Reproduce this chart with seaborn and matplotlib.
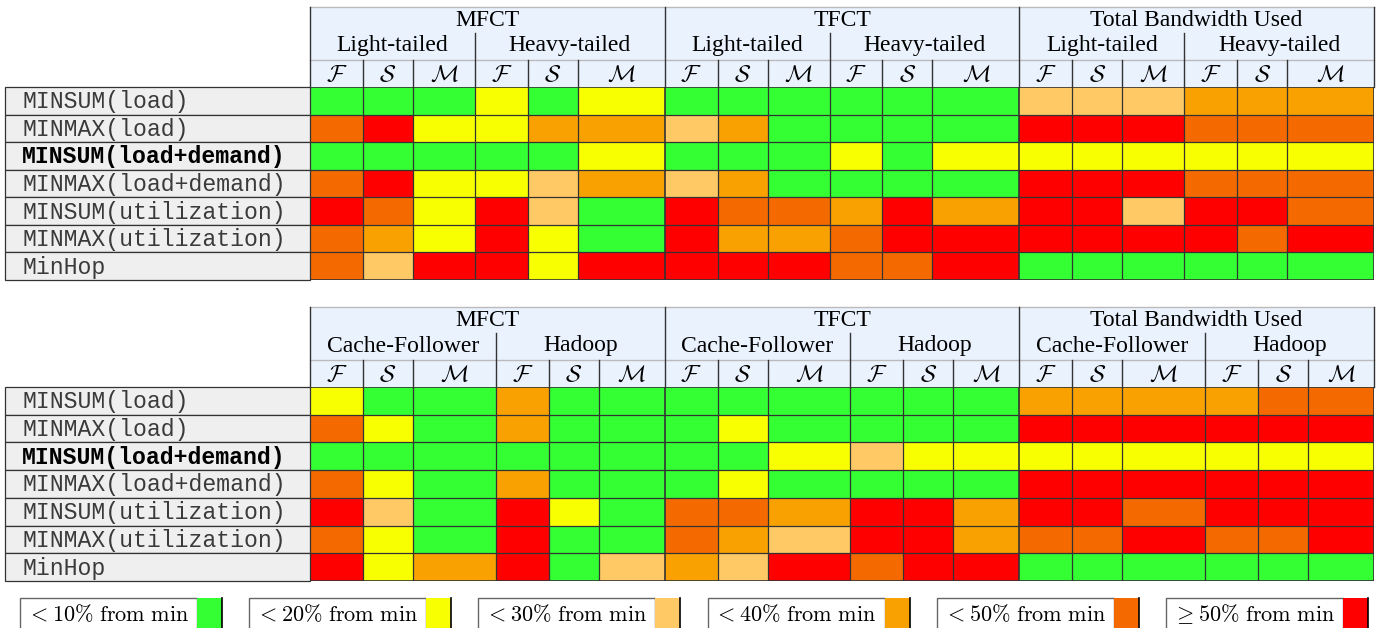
import numpy as np
import matplotlib
matplotlib.use("Agg")
import matplotlib.pyplot as plt
from matplotlib.colors import ListedColormap
from matplotlib.patches import Rectangle
import seaborn as sns

# Niveis: 0 (<10%) ... 5 (>=50%) de distancia do minimo
level_colors = ['#33FF33', '#F8FF00', '#FFC966', '#F8A100', '#F56A00', '#FF0000']
legend_labels = [r'$<10\%\ \mathrm{from\ min}$', r'$<20\%\ \mathrm{from\ min}$',
                 r'$<30\%\ \mathrm{from\ min}$', r'$<40\%\ \mathrm{from\ min}$',
                 r'$<50\%\ \mathrm{from\ min}$', r'$\geq 50\%\ \mathrm{from\ min}$']

algorithms = ['MINSUM(load)', 'MINMAX(load)', 'MINSUM(load+demand)', 'MINMAX(load+demand)',
              'MINSUM(utilization)', 'MINMAX(utilization)', 'MinHop']
metrics = ['MFCT', 'TFCT', 'Total Bandwidth Used']
stats_names = [r'$\mathcal{F}$', r'$\mathcal{S}$', r'$\mathcal{M}$']
top_workloads = ['Light-tailed', 'Heavy-tailed']
bottom_workloads = ['Cache-Follower', 'Hadoop']

# colunas: MFCT(w1 F S M, w2 F S M), TFCT(...), TBU(...)
top_levels = [
    [0, 0, 0, 1, 0, 1, 0, 0, 0, 0, 0, 0, 2, 2, 2, 3, 3, 3],
    [4, 5, 1, 1, 3, 3, 2, 3, 0, 0, 0, 0, 5, 5, 5, 4, 4, 4],
    [0, 0, 0, 0, 0, 1, 0, 0, 0, 1, 0, 1, 1, 1, 1, 1, 1, 1],
    [4, 5, 1, 1, 2, 3, 2, 3, 0, 0, 0, 0, 5, 5, 5, 4, 4, 4],
    [5, 4, 1, 5, 2, 0, 5, 4, 4, 3, 5, 3, 5, 5, 2, 5, 5, 4],
    [4, 3, 1, 5, 1, 0, 5, 3, 3, 4, 5, 5, 5, 5, 5, 5, 4, 5],
    [4, 2, 5, 5, 1, 5, 5, 5, 5, 4, 4, 5, 0, 0, 0, 0, 0, 0],
]
bottom_levels = [
    [1, 0, 0, 3, 0, 0, 0, 0, 0, 0, 0, 0, 3, 3, 3, 3, 4, 4],
    [4, 1, 0, 3, 0, 0, 0, 1, 0, 0, 0, 0, 5, 5, 5, 5, 5, 5],
    [0, 0, 0, 0, 0, 0, 0, 0, 1, 2, 1, 1, 1, 1, 1, 1, 1, 1],
    [4, 1, 0, 3, 0, 0, 0, 1, 0, 0, 0, 0, 5, 5, 5, 5, 5, 5],
    [5, 2, 0, 5, 1, 0, 4, 4, 3, 5, 5, 3, 5, 5, 4, 5, 5, 5],
    [4, 1, 0, 5, 0, 0, 4, 3, 2, 5, 5, 3, 4, 4, 5, 4, 4, 5],
    [5, 1, 3, 5, 0, 2, 3, 2, 5, 4, 5, 5, 0, 0, 0, 0, 0, 0],
]

# layout (pixels)
W, H = 1380, 628
top_widths = [53, 50, 62, 53, 50, 87]
bottom_widths = [53, 50, 83, 53, 50, 66]
X0, X1 = 310, 1374
LABEL_X0 = 5
HEADER_BG = '#EAF2FE'
LINE = '#333333'

plt.rcParams['mathtext.fontset'] = 'cm'
fig = plt.figure(figsize=(W / 100, H / 100), dpi=100)
over = fig.add_axes([0, 0, 1, 1], zorder=5)
over.set_xlim(0, W)
over.set_ylim(H, 0)
over.axis('off')


def draw_table(levels, workloads, widths, y_head, y_top, y_bot):
    widths_all = np.tile(widths, 3)
    data = np.repeat(np.array(levels), widths_all, axis=1)
    ax = fig.add_axes([X0 / W, 1 - y_bot / H, (X1 - X0) / W, (y_bot - y_top) / H])
    sns.heatmap(data, ax=ax, cmap=ListedColormap(level_colors), vmin=-0.5, vmax=5.5,
                cbar=False, xticklabels=False, yticklabels=False)
    edges = np.concatenate([[0], np.cumsum(widths_all)])
    for i, b in enumerate(edges):
        ax.axvline(b, color=LINE, lw=1.2 if i % 6 == 0 else 0.9)
    for r in range(len(levels) + 1):
        ax.axhline(r, color=LINE, lw=1.2 if r in (0, len(levels)) else 0.9)
    ax.set_xlim(0, edges[-1])
    ax.set_ylim(len(levels), 0)

    # cabecalho
    sx = (X1 - X0) / edges[-1]
    px = X0 + edges * sx
    over.add_patch(Rectangle((X0, y_head), X1 - X0, y_top - y_head, color=HEADER_BG, lw=0))
    over.plot([X0, X1], [y_head, y_head], color='#BBBBBB', lw=1)
    y_sub = y_head + 26
    y_stat = y_head + 53
    over.plot([X0, X1], [y_stat, y_stat], color='#BBBBBB', lw=1)
    for g, name in enumerate(metrics):
        gx0, gx1 = px[g * 6], px[g * 6 + 6]
        over.text((gx0 + gx1) / 2, y_head + 13, name, ha='center', va='center',
                  fontsize=17, family='Liberation Serif')
        for s, wl in enumerate(workloads):
            sx0, sx1 = px[g * 6 + s * 3], px[g * 6 + s * 3 + 3]
            over.text((sx0 + sx1) / 2, y_sub + 13, wl, ha='center', va='center',
                      fontsize=17, family='Liberation Serif')
            for k, st in enumerate(stats_names):
                cx0, cx1 = px[g * 6 + s * 3 + k], px[g * 6 + s * 3 + k + 1]
                over.text((cx0 + cx1) / 2, y_stat + 14, st, ha='center', va='center', fontsize=17)
    for i, x in enumerate(px):
        if i % 6 == 0:
            y_start = y_head
        elif i % 3 == 0:
            y_start = y_sub
        else:
            y_start = y_stat
        over.plot([x, x], [y_start, y_top], color=LINE, lw=1)

    # rotulos das linhas
    rh = (y_bot - y_top) / len(algorithms)
    for r, name in enumerate(algorithms):
        ry = y_top + r * rh
        over.add_patch(Rectangle((LABEL_X0, ry), X0 - LABEL_X0, rh, facecolor='#EFEFEF',
                                 edgecolor=LINE, lw=0.9))
        bold = name == 'MINSUM(load+demand)'
        over.text(22, ry + rh / 2 + 1, name, ha='left', va='center', fontsize=16.7,
                  family='Liberation Mono', fontweight='bold' if bold else 'normal',
                  color='black' if bold else '#3A3A3A')


draw_table(top_levels, top_workloads, top_widths, 7, 87, 280)
draw_table(bottom_levels, bottom_workloads, bottom_widths, 307, 387, 581)

# legenda
starts = np.linspace(20, 1166, len(legend_labels))
for x, lab, col in zip(starts, legend_labels, level_colors):
    over.add_patch(Rectangle((x, 598), 177, 40, facecolor='white', edgecolor='#666666', lw=1))
    over.add_patch(Rectangle((x + 177, 598), 25, 40, facecolor=col, edgecolor='none'))
    over.plot([x + 202, x + 202], [598, 628], color='black', lw=1.2)
    over.text(x + 88, 614, lab, ha='center', va='center', fontsize=16)

fig.savefig('out.png', dpi=100)
